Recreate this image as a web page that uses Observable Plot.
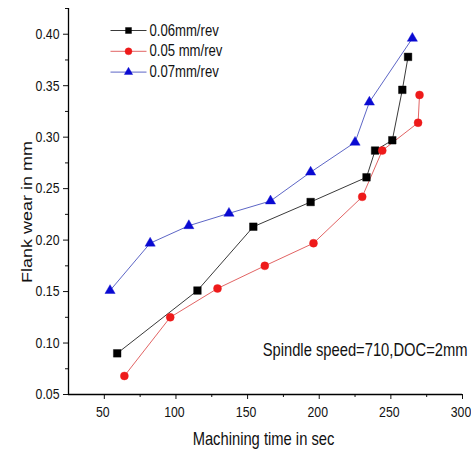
<!DOCTYPE html>
<html><head><meta charset="utf-8">
<script src="https://cdn.jsdelivr.net/npm/d3@7"></script>
<script src="https://cdn.jsdelivr.net/npm/@observablehq/plot@0.6"></script>
<style>body{margin:0;background:#fff}</style>
</head><body><div id="chart"></div>
<script>
const seriesNames = ["0.06mm/rev", "0.05 mm/rev", "0.07mm/rev"];
const time06 = [59, 115, 154, 194, 233, 239, 251, 258, 262];
const wear06 = [0.090, 0.151, 0.213, 0.237, 0.261, 0.287, 0.297, 0.346, 0.378];
const time05 = [64, 96, 129, 162, 196, 230, 244, 269, 270];
const wear05 = [0.068, 0.125, 0.153, 0.175, 0.197, 0.242, 0.287, 0.314, 0.341];
const time07 = [54, 82, 109, 137, 166, 194, 225, 235, 265];
const wear07 = [0.151, 0.197, 0.214, 0.226, 0.238, 0.266, 0.295, 0.334, 0.396];
const xTicks = [50, 100, 150, 200, 250, 300];
const xMinorTicks = [75, 125, 175, 225, 275];
const yTicks = [0.05, 0.10, 0.15, 0.20, 0.25, 0.30, 0.35, 0.40];
const yMinorTicks = [0.075, 0.125, 0.175, 0.225, 0.275, 0.325, 0.375, 0.425];
const xLabel = "Machining time in sec";
const yLabel = "Flank wear in mm";
const note = "Spindle speed=710,DOC=2mm";

const times = [time06, time05, time07];
const wears = [wear06, wear05, wear07];
const rows = seriesNames.flatMap((s, i) => times[i].map((t, j) => ({series: s, time: t, wear: wears[i][j]})));

const fillColors = ["#000000", "#ee1a1a", "#0a0ad2"];
const lineColors = ["#3a3a3a", "#e26464", "#5d66c6"];
const symbols = ["square", "circle", "triangle"];
const radii = [4.3, 4.0, 3.8];
const legendRadii = [3.4, 3.5, 3.1];
const legendLine = {draw(ctx) { ctx.moveTo(-18, 0); ctx.lineTo(18, 0); }};

const marks = [];
seriesNames.forEach((s, i) => {
  const d = rows.filter(r => r.series === s);
  marks.push(Plot.line(d, {x: "time", y: "wear", stroke: lineColors[i], strokeWidth: 1}));
});
seriesNames.forEach((s, i) => {
  const d = rows.filter(r => r.series === s);
  marks.push(Plot.dot(d, {x: "time", y: "wear", symbol: symbols[i], r: radii[i], fill: fillColors[i], stroke: fillColors[i], strokeWidth: 0.4}));
});
seriesNames.forEach((s, i) => {
  const dy = 22 + i * 20.8;
  marks.push(Plot.dot([s], {frameAnchor: "top-left", dx: 60, dy, symbol: legendLine, r: 1, fill: "none", stroke: lineColors[i], strokeWidth: 1}));
  marks.push(Plot.dot([s], {frameAnchor: "top-left", dx: 60, dy, symbol: symbols[i], r: legendRadii[i], fill: fillColors[i], stroke: fillColors[i], strokeWidth: 0.4}));
  marks.push(Plot.text([s], {frameAnchor: "top-left", dx: 81, dy, textAnchor: "start", lineAnchor: "middle", fontSize: 16, fill: "#111"}));
});

const chart = Plot.plot({
  width: 471,
  height: 453,
  marginLeft: 68,
  marginRight: 9,
  marginTop: 8,
  marginBottom: 59,
  style: {fontFamily: "'Liberation Sans', Arial, sans-serif", background: "#fff", color: "#111"},
  x: {domain: [25, 300]},
  y: {domain: [0.05, 0.425]},
  marks: [
    Plot.axisX(xTicks, {tickSize: 5, tickFormat: () => "", label: null, color: "#111"}),
    Plot.axisX(xTicks, {tickSize: 0, tickPadding: 12, tickFormat: d => String(d), fontSize: 15, label: null, color: "#111", dx: -1.5}),
    Plot.axisX(xMinorTicks, {tickSize: 3, tickFormat: () => "", label: null, color: "#111"}),
    Plot.axisY(yTicks, {tickSize: 5, tickPadding: 4, tickFormat: d3.format(".2f"), fontSize: 15, label: null, color: "#111"}),
    Plot.axisY(yMinorTicks, {tickSize: 3, tickFormat: () => "", label: null, color: "#111"}),
    Plot.ruleX([25], {stroke: "#000", strokeWidth: 1.3}),
    Plot.ruleY([0.05], {stroke: "#000", strokeWidth: 1.3}),
    ...marks,
    Plot.text([xLabel], {frameAnchor: "bottom", dx: -2, dy: 45, lineAnchor: "middle", fontSize: 18, fill: "#111"}),
    Plot.text([yLabel], {frameAnchor: "left", dx: -41, dy: 10.5, rotate: -90, textAnchor: "middle", lineAnchor: "middle", fontSize: 18, fill: "#111"}),
    Plot.text([note], {frameAnchor: "bottom-right", dx: 5, dy: -44, textAnchor: "end", lineAnchor: "middle", fontSize: 18, fill: "#111"})
  ]
});

// the reference image is squeezed horizontally: emulate by compressing glyphs in screen x
const squeeze = 0.82;
chart.querySelectorAll("text").forEach(el => {
  const t = el.getAttribute("transform");
  if (t) {
    if (t.includes("rotate(")) el.setAttribute("transform", t.replace("rotate(", `scale(${squeeze},1) rotate(`));
    else el.setAttribute("transform", `${t} scale(${squeeze},1)`);
  } else {
    const x = +(el.getAttribute("x") || 0), y = +(el.getAttribute("y") || 0);
    el.setAttribute("transform", `translate(${x},${y}) scale(${squeeze},1) translate(${-x},${-y})`);
  }
});
document.getElementById("chart").appendChild(chart);
</script>
</body></html>
